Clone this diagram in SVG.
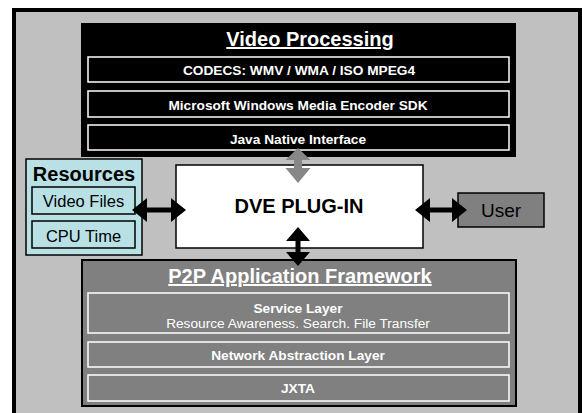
<svg xmlns="http://www.w3.org/2000/svg" width="582" height="413" viewBox="0 0 582 413">
<style>
text{font-family:"Liberation Sans",Arial,sans-serif;text-anchor:middle}
.w{fill:#fff}
.b{font-weight:bold}
.row{fill:none;stroke:#fff;stroke-width:1.5}
.blk{fill:#000}
.s{font-size:13.7px}
</style>
<rect x="0" y="0" width="582" height="413" fill="#fff"/>
<g id="frame">
<rect x="14" y="10" width="566" height="412" fill="#c0c0c0" stroke="#000" stroke-width="4"/>
</g>
<g id="video-processing">
<rect x="81" y="23" width="435" height="134" fill="#000"/>
<text x="310" y="46" class="w b" font-size="20" text-decoration="underline">Video Processing</text>
<rect x="88" y="57" width="421" height="25" class="row"/>
<text x="299" y="75" class="w b s">CODECS: WMV / WMA / ISO MPEG4</text>
<rect x="88" y="91" width="421" height="26" class="row"/>
<text x="298" y="110" class="w b s">Microsoft Windows Media Encoder SDK</text>
<rect x="88" y="125" width="421" height="25" class="row"/>
<text x="298" y="144" class="w b s">Java Native Interface</text>
</g>
<g id="resources">
<rect x="26" y="159" width="116" height="96" fill="#b9e1e5" stroke="#000" stroke-width="1.5"/>
<text x="84" y="181" class="b" font-size="20">Resources</text>
<rect x="32" y="187" width="103" height="27" fill="#b9e1e5" stroke="#000" stroke-width="1.5"/>
<text x="83.5" y="207" font-size="16.5">Video Files</text>
<rect x="32" y="221" width="103" height="27" fill="#b9e1e5" stroke="#000" stroke-width="1.5"/>
<text x="83.5" y="242" font-size="16.5">CPU Time</text>
</g>
<g id="dve-plugin">
<rect x="176" y="165" width="247" height="83" fill="#fff" stroke="#000" stroke-width="1.5"/>
<text x="299" y="213" class="b" font-size="20">DVE PLUG-IN</text>
</g>
<g id="user">
<rect x="458" y="193" width="86" height="34" fill="#808080" stroke="#000" stroke-width="1.5"/>
<text x="501" y="217" font-size="19">User</text>
</g>
<g id="p2p">
<rect x="82" y="260" width="434" height="146" fill="#808080" stroke="#000" stroke-width="2"/>
<text x="300" y="283" class="w b" font-size="20" text-decoration="underline">P2P Application Framework</text>
<rect x="88" y="293" width="421" height="40" class="row"/>
<text x="298" y="313" class="w b s">Service Layer</text>
<text x="298" y="328" class="w s">Resource Awareness. Search. File Transfer</text>
<rect x="88" y="342" width="421" height="25" class="row"/>
<text x="298" y="360" class="w b s">Network Abstraction Layer</text>
<rect x="88" y="375" width="421" height="26" class="row"/>
<text x="298" y="393" class="w b s">JXTA</text>
</g>
<g id="connectors">
<polygon class="blk" points="132,210 147,198 147,207.5 171,207.5 171,198 186,210 171,222 171,212.5 147,212.5 147,222"/>
<polygon class="blk" points="415,210 430,198 430,207.5 452,207.5 452,198 467,210 452,222 452,212.5 430,212.5 430,222"/>
<polygon class="blk" points="298,227 310,241 300.5,241 300.5,252 310,252 298,266 286,252 295.5,252 295.5,241 286,241"/>
<polygon fill="#878787" points="298,148 310.5,160 302,160 302,168 310.5,168 298,183 285.5,168 294,168 294,160 285.5,160"/>
</g>
</svg>
